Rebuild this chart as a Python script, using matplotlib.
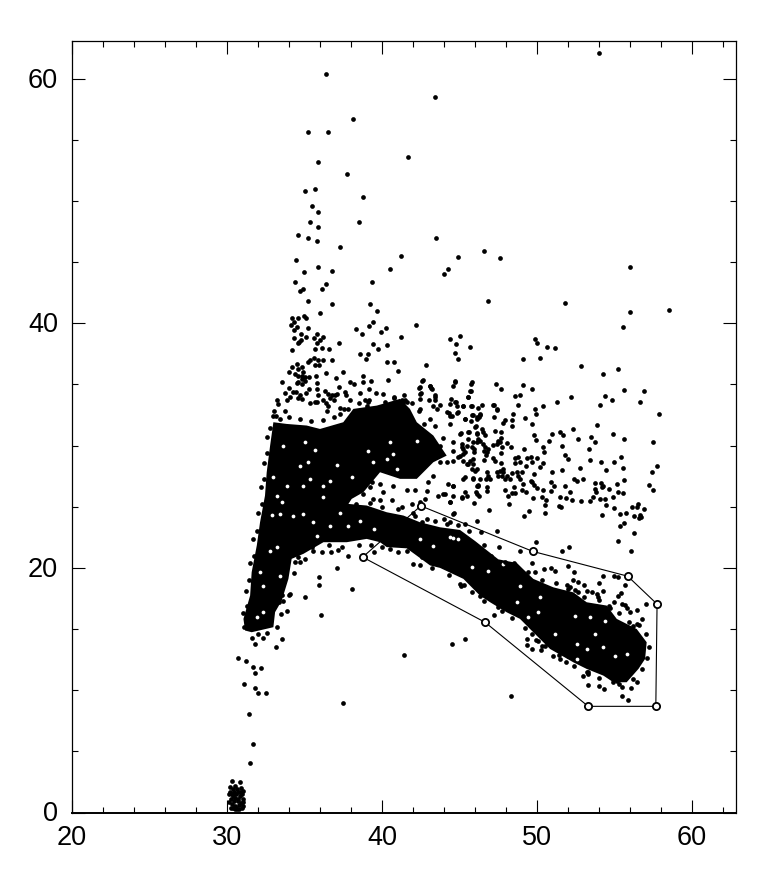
import numpy as np
import matplotlib
matplotlib.use("Agg")
import matplotlib.pyplot as plt
from matplotlib.transforms import ScaledTranslation

# All values below are read by eye from the reference, in data units.
x_major = [20, 30, 40, 50, 60]
y_major = [0, 20, 40, 60]
x_minor = [22, 24, 26, 28, 32, 34, 36, 38, 42, 44, 46, 48, 52, 54, 56, 58, 62]
y_minor = [5, 10, 15, 25, 30, 35, 45, 50, 55]

# Region enclosed by the drawn polygon (vertices carry open circles)
poly_x = [38.75, 42.5, 49.72, 55.85, 57.74, 57.66, 53.3, 46.65]
poly_y = [20.88, 25.07, 21.35, 19.32, 17.04, 8.68, 8.68, 15.55]

# Points in the saturated bands cannot be read one by one: the solid mass is
# a filled outline, with the visible holes on top.
mass_outline = [
 (31.16,14.88),(31.06,15.83),(31.49,17.74),(31.59,19.65),(31.92,21.83),(32.13,23.73),(32.45,25.91),
 (32.56,27.82),(32.78,30.0),(32.99,31.91),(33.85,31.77),(35.14,31.64),(36.0,31.36),(37.5,31.91),
 (38.15,33.0),(39.66,33.27),(41.16,33.82),(41.8,33.0),(42.24,31.91),(43.31,30.82),(44.17,29.18),
 (43.31,28.64),(42.24,27.28),(41.16,27.28),(39.87,27.82),(38.8,26.19),(38.04,25.64),(37.83,25.23),
 (39.01,25.1),(40.3,24.55),(41.38,24.28),(42.45,23.73),(43.74,23.32),(45.03,23.1),(46.0,22.2),
 (46.9,21.3),(47.5,20.7),(48.7,20.4),(49.1,19.9),(49.76,19.1),(51.05,18.41),(52.34,18.0),(53.2,17.19),
 (54.49,16.92),(55.14,15.83),(56.43,15.0),(57.07,13.92),(56.97,12.56),(56.54,11.74),(55.78,10.65),
 (54.92,10.65),(54.28,11.19),(53.2,11.74),(52.34,12.28),(50.84,13.37),(49.55,15.0),(48.9,15.83),
 (48.04,16.37),(46.97,17.19),(46.32,17.73),(45.25,19.1),(43.74,20.0),(43.1,20.2),(42.24,21.0),
 (41.59,21.6),(40.3,21.7),(39.87,22.1),(39.01,22.37),(37.72,22.1),(36.22,22.1),(34.93,21.15),
 (34.17,20.74),(33.96,19.1),(33.53,17.33),(33.1,16.38),(32.99,15.15),(31.59,14.74)]

mass_holes = [
 (35.03,30.33),(35.68,29.65),(33.64,30.0),(39.12,29.59),(40.52,30.27),(42.24,30.41),(40.73,29.32),
 (35.25,28.64),(34.71,28.31),(36.65,27.14),(34.88,26.73),(32.99,27.41),(36.22,26.68),(36.22,25.78),
 (33.53,25.37),(32.88,24.33),(33.42,24.41),(34.93,24.41),(37.29,24.5),(35.79,22.64),(37.83,23.46),
 (32.78,21.42),(33.21,21.69),(33.42,19.37),(32.35,16.38),(31.92,15.97),(32.13,19.65),(32.35,18.56),
 (35.36,27.28),(37.08,28.42),(39.44,28.64),(40.95,28.09),(38.04,27.41),(40.3,28.91),(34.28,24.28),
 (36.65,23.46),(39.49,23.19),(42.45,22.37),(43.31,21.83),(38.58,23.87),(33.85,26.73),(33.21,25.91),
 (35.57,23.73),(44.6,22.42),(44.39,22.5),(44.92,22.37),(45.78,20.05),(46.86,19.78),(47.83,20.32),
 (48.9,18.55),(50.19,17.6),(50.08,16.37),(49.44,15.96),(51.16,14.6),(52.45,16.1),(53.42,15.96),
 (54.39,15.69),(53.74,14.6),(52.56,13.78),(55.03,12.83),(55.78,12.97),(52.56,12.56),(53.2,13.37),
 (48.69,17.19),(54.28,13.51)]

edge_points = [
 (31.1,15.2),(31.0,16.3),(31.3,16.9),(31.2,18.1),(31.4,19.0),(31.5,20.4),(31.75,21.0),(31.7,22.4),
 (31.95,23.0),(32.0,24.5),(32.25,25.2),(32.2,26.6),(32.4,27.3),(32.4,28.6),(32.55,29.4),(32.6,30.7),
 (32.75,31.4),(32.95,32.4),(33.4,32.2),(34.0,32.3),(34.7,32.2),(35.4,32.0),(36.2,32.1),(36.9,32.3),
 (37.3,32.6),(37.8,33.0),(38.5,33.5),(39.1,33.6),(40.2,33.6),(40.8,34.0),(41.4,34.1),(41.9,33.5),
 (42.4,32.8),(42.7,31.8),(43.4,31.6),(43.9,30.6),(33.2,15.2),(32.6,14.7),(32.0,14.6),(33.5,16.2),
 (34.0,17.8),(34.3,19.6),(34.6,20.9),(35.5,21.7),(36.6,21.9),(37.4,21.7),(38.5,21.9),(39.3,21.9),
 (40.0,21.7),(41.0,21.3),(41.6,21.4),(42.6,20.9),(43.2,20.0),(44.3,19.4),(45.0,18.7),(45.8,18.0),
 (46.6,17.3),(47.5,16.8),(48.4,15.9),(49.2,15.1),(49.9,14.1),(50.5,13.6),(51.4,12.9),(52.4,12.0),
 (53.3,11.5),(54.0,11.0),(55.3,10.5),(56.2,10.9),(56.8,11.7),(57.1,12.6),(57.2,13.5),(57.0,14.6),
 (56.6,15.3),(55.9,15.6),(55.3,16.3),(54.7,16.7),(54.0,17.4),(53.0,17.6),(52.0,18.3),(51.2,18.8),
 (50.3,19.0),(49.4,19.7),(48.5,20.4),(47.9,20.5),(47.0,21.0),(46.6,21.9),(46.4,22.9),(45.6,23.0),
 (44.9,23.5),(44.2,23.6),(43.4,23.8),(42.9,24.0),(42.0,24.5),(41.0,24.8),(40.0,25.0),(39.2,25.3),(38.3,25.2)]

top_points = [
 (54.0,62.1),(36.4,60.4),(43.4,58.5),(38.15,56.7),(35.25,55.6),(36.5,55.6),(35.85,53.2),(41.7,53.6),
 (37.75,52.2),(35.65,51.0),(35.0,50.8),(38.8,50.3),(35.45,49.6),(35.9,49.1),(35.35,48.3),(38.5,48.3),
 (35.9,47.85),(34.6,47.2),(35.2,47.0),(35.8,46.7),(43.5,47.0),(37.3,46.25),(41.2,45.5),(44.9,45.4),
 (34.45,45.15),(56.0,44.6),(46.6,45.9),(47.6,45.3),(58.5,41.1)]

mid_points = [
 (35.9,44.6),(36.8,44.3),(34.95,44.2),(40.5,44.4),(44.25,44.4),(44.0,44.0),(34.4,43.4),(39.35,43.4),
 (36.4,43.2),(36.15,42.8),(34.9,42.8),(34.7,42.6),(35.2,41.85),(46.85,41.8),(36.8,41.6),(39.2,41.6),
 (39.7,41.0),(36.0,40.8),(34.2,40.4),(34.6,40.45),(34.95,40.6),(35.1,40.45),(34.3,40.1),(34.1,39.9),
 (39.4,40.1),(39.15,39.8),(42.2,39.85),(34.5,39.7),(35.2,39.6),(34.3,39.45),(38.3,39.5),(40.25,39.6),
 (39.95,39.3),(38.7,39.1),(34.8,39.15),(35.8,39.15),(36.2,38.9),(35.1,38.9),(34.3,38.8),(35.6,38.8),
 (41.2,38.85),(45.0,39.0),(44.4,38.75),(34.8,38.65),(34.65,38.5),(34.55,38.4),(36.0,38.6),(35.8,38.4),
 (37.25,38.4),(39.4,38.3),(40.3,38.25),(44.8,38.3),(45.65,38.05),(35.7,37.9),(36.1,38.0),(36.6,37.9),
 (39.75,37.9),(34.2,37.8),(44.7,37.55),(38.55,37.5),(39.1,37.5),(38.95,37.1),(44.9,37.05),(35.6,37.15),
 (35.35,37.0),(35.25,36.8),(35.9,37.0),(36.2,37.0),(36.8,37.0),(40.3,36.85),(40.8,36.8),(34.5,36.65),
 (35.7,36.6),(35.95,36.6),(42.85,36.6),(34.2,36.4),(41.05,36.1),(37.5,36.05),(34.0,36.0),(36.4,35.9),
 (34.82,36.4),(34.6,36.27),(34.93,36.0),(34.4,35.86),(34.6,35.67),(34.82,35.72),(35.03,35.6),(35.31,35.6),
 (34.82,35.45),(34.6,35.23),(34.82,35.04),(35.03,35.3),(34.5,35.1),(35.72,35.7),(38.8,35.7),(37.03,35.5),
 (40.37,35.4),(42.62,35.4),(33.55,35.2),(35.79,35.1),(38.75,35.2),(39.29,35.3),(37.92,35.2),(38.2,35.04),
 (44.69,35.26),(44.6,34.9),(43.1,34.9),(43.16,34.7),(45.74,35.0),(47.33,35.0),(37.2,34.8),(42.41,34.74),
 (34.02,34.7),(35.31,34.63),(35.79,34.66),(39.16,34.63),(36.3,34.5),(45.72,34.5),(34.28,34.4),(34.45,34.36),
 (37.64,34.36),(37.68,34.17),(38.58,34.3),(39.59,34.3),(40.07,34.22),(42.52,34.3),(33.72,34.3),(35.12,34.3),
 (35.89,34.17),(36.54,34.2),(36.75,34.1),(36.97,34.17),(36.65,33.87),(37.12,34.2),(34.07,34.0),(34.71,34.1),
 (34.6,33.87),(34.82,33.8),(40.77,33.9),(43.42,34.15),(43.4,33.76),(43.05,33.7),(45.53,34.0),(44.47,33.8),
 (44.75,33.6),(42.45,33.8),(33.2,33.7),(33.31,33.4),(37.94,33.76),(33.85,33.7),(36.2,33.7),(36.37,33.5),
 (36.54,33.27),(36.9,33.7),(38.9,33.7),(39.18,33.7),(39.0,33.27),(35.36,33.5),(35.68,33.54),(35.83,33.6),
 (41.27,33.76),(41.48,33.76),(41.64,33.6),(41.38,33.5),(47.18,33.35),(47.44,32.94),(43.74,33.35),(43.53,33.0),
 (45.72,33.25),(45.2,33.25),(44.82,33.2),(44.82,32.7),(46.22,33.1),(46.43,33.35),(37.29,33.1),(37.55,33.0),
 (39.87,33.1),(40.3,33.1),(40.73,33.27),(33.14,32.4),(33.05,32.86),(33.74,32.8),(36.43,32.86),(39.48,32.7),
 (44.35,32.7),(44.54,32.4),(45.79,32.54),(46.32,32.6),(46.1,32.3),(42.45,33.0)]

right_points = [
 (51.83,41.69),(56.02,40.95),(55.52,39.72),(49.87,38.72),(49.98,38.36),(50.64,38.09),(51.18,37.98),
 (49.07,37.08),(50.17,37.16),(52.86,36.5),(55.2,36.3),(54.23,35.88),(49.1,34.95),(47.7,34.63),(49.67,34.6),
 (55.61,34.57),(56.92,34.44),(48.58,34.08),(48.9,34.14),(52.17,33.97),(54.41,34.06),(54.86,33.7),(56.62,33.54),
 (51.29,33.57),(54.06,33.32),(47.2,33.35),(47.42,33.0),(48.79,33.32),(50.36,33.2),(49.89,32.97),(49.91,32.58),
 (57.89,32.56),(48.47,32.56),(48.38,32.12),(48.41,31.63),(49.22,32.29),(47.22,32.34),(47.93,32.12),(47.78,31.82),
 (46.32,32.5),(46.23,32.3),(45.85,32.5),(45.35,32.18),(45.74,32.04),(49.7,31.77),(53.87,31.66),(46.02,31.55),
 (52.34,31.33),(46.43,31.36),(46.54,31.14),(46.64,30.9),(47.29,31.17),(47.65,31.1),(45.63,31.07),(46.1,31.0),
 (45.09,31.0),(51.46,31.1),(51.7,30.9),(50.99,30.95),(49.8,30.9),(49.93,30.46),(54.88,30.92),(52.62,30.57),
 (53.48,30.7),(53.76,30.32),(55.63,30.57),(57.5,30.3),(50.77,30.35),(45.52,30.54),(45.85,30.27),(46.21,30.54),
 (46.32,30.35),(46.49,30.16),(47.65,30.6),(47.61,30.27),(47.4,30.13),(47.18,30.05),(47.72,29.86),(47.5,30.35),
 (48.08,30.2),(48.34,29.89),(51.59,29.94),(45.14,30.13),(45.46,30.0),(45.2,29.72),(45.35,29.45),(45.03,29.18),
 (45.25,28.77),(45.46,28.5),(45.68,28.77),(45.89,28.5),(45.78,28.09),(46.0,27.95),(45.95,29.72),(45.93,29.5),
 (46.64,29.86),(46.86,29.72),(46.58,29.59),(46.75,29.45),(46.71,29.23),(47.65,29.4),(50.41,29.86),(50.45,29.5),
 (53.35,29.7),(49.14,29.7),(51.78,29.26),(52.0,28.9),(48.79,29.04),(48.58,28.96),(48.9,28.69),(49.33,29.0),
 (49.59,29.07),(49.98,29.0),(47.14,28.96),(47.29,28.72),(46.56,28.8),(49.65,28.69),(50.41,28.6),(50.19,28.28),
 (48.6,28.55),(49.29,28.33),(53.4,28.82),(54.15,28.69),(54.99,28.69),(55.42,29.04),(47.65,28.55),(52.77,28.14),
 (51.59,28.0),(50.99,27.87),(54.43,28.03),(55.52,28.14),(57.72,28.33),(57.4,27.87),(47.61,27.95),(47.83,28.09),
 (47.4,27.87),(47.72,27.54),(47.93,27.27),(48.04,27.54),(47.83,27.8),(47.5,27.54),(48.36,27.76),(48.69,27.82),
 (49.01,27.87),(48.79,27.54),(48.9,27.27),(46.75,27.82),(46.86,27.54),(46.71,27.27),(46.97,27.27),(49.8,27.65),
 (45.89,27.33),(46.32,27.27),(45.35,27.43),(48.26,27.27),(49.59,27.13),(50.88,27.05),(52.39,27.27),(52.6,27.13),
 (52.97,27.27),(55.63,27.19),(53.72,26.92),(54.15,26.94),(54.28,26.73),(54.17,26.59),(55.14,26.83),(57.25,26.78),
 (57.46,26.4),(49.07,26.86),(49.7,27.0),(49.8,26.78),(46.1,26.67),(46.75,26.59),(46.75,26.32),(46.06,26.18),
 (46.21,26.78),(47.93,26.4),(48.51,26.6),(49.01,26.35),(49.29,26.23),(50.02,26.5),(50.41,26.35),(50.88,26.3),
 (51.09,26.73),(51.8,26.7),(53.74,26.45),(53.8,26.18),(54.66,26.45),(55.2,26.18),(55.57,26.13),(52.13,26.24),
 (48.36,26.13),(48.58,26.1),(48.15,25.85),(46.28,25.85),(45.46,25.85),(45.14,25.7),(45.35,26.18),(49.72,25.69),
 (50.3,25.83),(50.58,25.58),(51.48,25.83),(51.85,25.69),(52.28,25.58),(52.84,25.5),(53.42,25.45),(53.63,25.77),
 (54.08,25.64),(54.36,25.64),(54.92,25.83),(45.93,25.31),(48.21,25.23),(50.51,25.15),(51.42,25.09),(51.55,24.96),
 (54.45,25.15),(54.96,24.9),(56.15,25.01),(56.43,25.01),(56.54,25.23),(56.92,24.82),(46.9,24.71),(49.5,24.68),
 (50.51,24.49),(49.16,24.27),(54.21,24.3),(55.35,24.38),(55.74,24.49),(56.26,24.27),(56.64,24.33),(56.71,24.14),
 (44.6,26.73),(44.06,26.04),(44.6,25.91),(44.39,25.36),(44.64,24.46)]

gap_points = [
 (42.56,35.31),(43.1,34.9),(43.2,34.63),(42.45,34.22),(42.45,34.77),(43.42,33.95),(44.71,35.18),(45.79,35.18),
 (45.68,34.5),(45.57,33.95),(44.71,33.54),(44.39,33.41),(43.31,33.27),(44.17,32.72),(44.93,32.72),(45.25,33.27),
 (45.79,33.27),(45.36,32.18),(44.39,32.45),(43.1,32.18),(46.11,32.18),(44.39,31.77),(45.57,31.09),(46.07,31.64),
 (45.03,30.95),(45.79,29.86),(45.14,29.86),(44.6,30.27),(46.11,30.95),(46.11,30.27),(44.6,29.59),(45.25,29.32),
 (43.74,30.0),(45.89,28.91),(44.93,29.05),(44.6,28.77),(45.57,28.5),(46.11,28.09),(44.17,28.64),(43.74,28.64),
 (43.31,27.55),(42.99,27.0),(42.88,26.32),(43.64,25.91),(43.96,26.05),(45.14,25.78),(44.6,26.73),(44.28,26.87),
 (45.25,27.28),(45.89,27.28),(46.22,26.73),(46.11,26.05),(44.39,25.37),(42.78,25.64),(45.36,23.6),(46.11,23.87),
 (44.6,24.41),(39.33,27.0),(39.87,26.87),(40.09,26.19),(40.73,26.73),(41.59,26.38),(42.13,26.38),(38.8,26.05),
 (39.44,25.64),(39.87,25.59),(40.62,25.59),(41.27,24.96),(41.92,25.23),(42.45,25.37),(39.23,26.59),(44.0,24.0),
 (44.39,23.73),(42.13,24.28),(42.56,23.73)]

lower_right_points = [
 (47.44,23.05),(49.95,22.15),(47.55,21.74),(52.08,21.74),(51.59,21.41),(48.9,21.41),(55.25,22.23),(56.04,21.41),
 (56.26,22.88),(55.35,23.4),(55.63,23.65),(56.58,24.05),(49.65,20.38),(49.87,19.7),(50.45,19.9),(50.9,19.97),
 (51.16,19.75),(51.98,20.13),(52.41,19.64),(54.28,19.34),(54.99,19.37),(55.25,19.23),(55.7,18.6),(55.4,17.95),
 (55.25,17.68),(54.97,17.19),(54.64,16.92),(53.98,18.77),(52.32,18.99),(52.64,18.82),(53.01,18.6),(51.91,18.6),
 (52.13,18.41),(52.45,18.2),(52.66,18.0),(53.2,18.14),(53.52,18.06),(53.85,17.87),(53.95,17.6),(54.23,18.14),
 (55.46,17.05),(55.68,16.97),(55.83,16.7),(56.0,16.37),(57.01,17.02),(56.47,16.59),(56.75,15.83),(56.43,15.42),
 (56.17,15.28),(47.72,16.45),(47.25,16.18),(45.29,18.6),(45.07,18.5),(46.32,17.73),(49.65,14.6),(49.37,14.19),
 (49.37,13.73),(49.65,13.37),(50.08,14.05),(50.3,13.65),(50.23,13.32),(51.03,12.8),(51.48,12.56),(51.87,12.28),
 (52.02,12.83),(53.31,11.33),(52.99,11.19),(53.2,11.47),(53.31,10.46),(54.02,10.32),(54.32,10.08),(54.92,10.65),
 (55.14,10.79),(55.46,10.92),(55.46,10.24),(56.06,10.16),(56.43,10.65),(55.5,9.56),(55.89,9.23),(44.49,13.78),
 (45.33,14.19),(48.32,9.56),(41.4,12.9),(37.5,8.95)]

below_points = [
 (35.03,20.74),(34.71,20.52),(34.39,20.52),(37.08,19.97),(35.96,19.29),(35.96,18.64),(38.04,18.28),(35.03,17.66),
 (34.07,17.88),(33.57,17.79),(33.59,17.33),(33.38,17.25),(33.89,16.46),(36.09,16.13),(37.83,21.01),(37.18,21.47),
 (36.69,21.28),(36.11,21.28),(35.57,21.42),(39.49,21.28),(40.52,21.55),(42.02,20.33),(42.45,20.25),
 (31.59,14.27),(32.32,14.27),(31.79,13.78),(33.57,14.16),(33.18,13.51),(30.69,12.64),(31.2,12.36),(31.7,11.87),
 (32.22,11.82),(31.81,11.41),(31.12,10.51),(31.81,10.16),(32.02,9.78),(32.54,9.78),(31.42,8.06),(31.68,5.63),(31.51,4.05)]

blob_points = [
 (30.35,2.61),(30.84,2.47),(30.2,2.06),(30.41,1.93),(30.63,1.93),(30.88,1.98),(31.06,1.79),(30.15,1.52),
 (30.37,1.38),(30.58,1.52),(30.84,1.38),(30.24,1.11),(30.45,0.97),(30.73,1.11),(31.01,1.11),(30.3,0.70),
 (30.52,0.57),(30.8,0.62),(31.06,0.84),(30.41,0.35),(30.67,0.29),(30.95,0.35),(30.2,1.71),(30.52,2.2),
 (30.73,1.71),(30.95,1.52),(30.15,0.84),(30.3,1.5),(30.5,1.2),(30.7,0.9),(30.9,0.8),(30.6,0.35),(30.85,1.7),
 (30.45,1.65),(30.25,0.4),(30.5,0.3),(30.8,0.3),(31.0,0.5)]

fig = plt.figure(figsize=(7.71, 8.78), dpi=100)
W, H = 771, 878
ax = fig.add_axes([72/W, (H-813.5)/H, 663.5/W, 771.5/H])
ax.set_xlim(20, 62.8)
ax.set_ylim(0, 63.08)

xs, ys = zip(*mass_outline)
ax.fill(xs, ys, color="black", lw=0, zorder=2)
hx, hy = zip(*mass_holes)
ax.plot(hx, hy, ls="none", marker="o", ms=2.7, mew=0, color="white", zorder=3)

for group in (edge_points, top_points, mid_points, right_points, gap_points,
              lower_right_points, below_points, blob_points):
    gx, gy = zip(*group)
    ax.plot(gx, gy, ls="none", marker="o", ms=3.4, mew=0, color="black", zorder=4, clip_on=False)

ax.plot(poly_x + poly_x[:1], poly_y + poly_y[:1], color="black", lw=0.8, zorder=5)
ax.plot(poly_x, poly_y, ls="none", marker="o", ms=5.2, mew=1.3, mfc="white", mec="black", zorder=6)

ax.set_xticks(x_major)
ax.set_yticks(y_major)
ax.set_xticks(x_minor, minor=True)
ax.set_yticks(y_minor, minor=True)
ax.tick_params(which="major", direction="in", length=9.5, width=0.8, top=True, right=True,
               labelsize=19.5, color="black")
ax.tick_params(which="minor", direction="in", length=4.5, width=0.8, top=True, right=True)
ax.tick_params(axis="x", which="major", pad=8)
ax.tick_params(axis="y", which="major", pad=10)
up = ScaledTranslation(0, 2/72*0.72*1.0, fig.dpi_scale_trans)
for lab in ax.get_xticklabels() + ax.get_yticklabels():
    lab.set_fontfamily("Liberation Sans")
for lab in ax.get_yticklabels():
    lab.set_transform(lab.get_transform() + up)
for name, sp in ax.spines.items():
    sp.set_linewidth(1.4 if name == "bottom" else 0.9)

fig.savefig("out.png", dpi=100)
